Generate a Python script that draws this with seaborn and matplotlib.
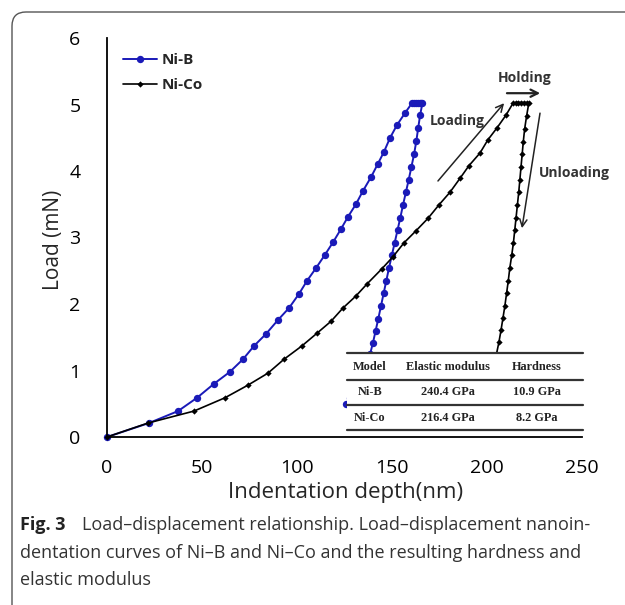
import matplotlib
matplotlib.use("Agg")
import numpy as np
import pandas as pd
import seaborn as sns
import matplotlib.pyplot as plt
from matplotlib.patches import FancyBboxPatch, Rectangle
from matplotlib.lines import Line2D
from matplotlib.transforms import IdentityTransform

# ---------------- data ----------------
niB_depth = [0, 22.1, 37.4, 47.4, 56.3, 64.7, 71.6, 77.4, 83.7, 90.0, 95.8, 101.0,
             105.3, 110.0, 114.7, 119.0, 123.2, 126.8, 131.0, 134.7, 139.0, 142.6,
             145.8, 149.0, 152.6, 156.8, 160.5,
             161.5, 162.5, 163.5, 164.5, 165.5,
             166.0, 164.8, 163.8, 162.8, 161.6, 160.2, 158.8, 157.3, 155.8, 154.4,
             152.9, 151.4, 149.9, 148.4, 147.0, 145.6, 144.2, 142.8, 141.4, 140.0,
             138.5, 136.5, 134.0, 131.0, 128.0, 125.8]
niB_load = [0, 0.21, 0.39, 0.59, 0.80, 0.98, 1.17, 1.37, 1.55, 1.76, 1.94, 2.15,
            2.35, 2.54, 2.74, 2.93, 3.13, 3.31, 3.50, 3.70, 3.91, 4.11,
            4.29, 4.50, 4.69, 4.87, 5.02,
            5.03, 5.03, 5.03, 5.03, 5.03,
            5.02, 4.84, 4.65, 4.45, 4.25, 4.06, 3.87, 3.68, 3.49, 3.30,
            3.11, 2.92, 2.73, 2.54, 2.35, 2.16, 1.97, 1.78, 1.60, 1.42,
            1.25, 1.08, 0.90, 0.72, 0.58, 0.50]

niCo_depth = [0, 21.6, 45.8, 62.1, 74.2, 84.7, 93.2, 102.6, 110.5, 117.9, 124.2,
              131.0, 136.8, 144.7, 150.5, 156.3, 162.6, 169.0, 174.7, 180.5, 185.8,
              190.5, 196.3, 200.5, 205.3, 210.0, 213.7,
              215.0, 216.5, 218.0, 219.5, 221.0,
              222.0, 220.8, 219.8, 219.1, 218.5, 217.9, 217.3, 216.7, 216.0, 215.3,
              214.6, 213.9, 213.0, 212.0, 211.2, 210.3, 209.4, 208.4, 207.4, 206.3,
              205.0, 203.5]
niCo_load = [0, 0.21, 0.39, 0.59, 0.78, 0.96, 1.17, 1.37, 1.56, 1.74, 1.94,
             2.12, 2.30, 2.53, 2.71, 2.92, 3.10, 3.29, 3.49, 3.68, 3.89,
             4.08, 4.27, 4.47, 4.65, 4.84, 5.02,
             5.03, 5.03, 5.03, 5.03, 5.03,
             5.02, 4.82, 4.63, 4.44, 4.25, 4.06, 3.87, 3.68, 3.49, 3.30,
             3.11, 2.92, 2.73, 2.54, 2.35, 2.16, 1.97, 1.79, 1.61, 1.43,
             1.25, 1.08]

x_ticks = [0, 50, 100, 150, 200, 250]
y_ticks = [0, 1, 2, 3, 4, 5, 6]

table_header = ["Model", "Elastic modulus", "Hardness"]
table_rows = [["Ni-B", "240.4 GPa", "10.9 GPa"],
              ["Ni-Co", "216.4 GPa", "8.2 GPa"]]

caption_bold = "Fig. 3"
caption_lines = ["Load\u2013displacement relationship. Load\u2013displacement nanoin-",
                 "dentation curves of Ni\u2013B and Ni\u2013Co and the resulting hardness and",
                 "elastic modulus"]

# ---------------- style ----------------
sns.set_style("white")
plt.rcParams["font.family"] = ["Open Sans", "DejaVu Sans"]

W, H = 625, 605
fig = plt.figure(figsize=(W / 100, H / 100), dpi=100)
fig.patch.set_facecolor("white")


def fx(px):
    return px / W


def fy(py):
    return 1 - py / H


ax = fig.add_axes([fx(107), fy(437), 475 / W, 399 / H])

blue = "#1a1ab8"
df_b = pd.DataFrame({"depth": niB_depth, "load": niB_load})
df_c = pd.DataFrame({"depth": niCo_depth, "load": niCo_load})

sns.lineplot(data=df_b, x="depth", y="load", sort=False, estimator=None, ax=ax,
             color=blue, marker="o", markersize=5.3, markeredgewidth=0,
             linewidth=1.4, label="Ni-B")
sns.lineplot(data=df_c, x="depth", y="load", sort=False, estimator=None, ax=ax,
             color="black", marker="D", markersize=3.2, markeredgewidth=0,
             linewidth=1.2, label="Ni-Co")
for ln in ax.lines:
    ln.set_clip_on(False)

ax.set_xlim(0, 250)
ax.set_ylim(0, 6)
ax.set_xticks(x_ticks)
ax.set_yticks(y_ticks)
ax.set_xticklabels([str(v) for v in x_ticks])
ax.set_yticklabels([str(v) for v in y_ticks])
ax.tick_params(axis="both", direction="out", length=7, width=1.3, labelsize=14,
               colors="black")
ax.tick_params(axis="x", pad=9)
ax.tick_params(axis="y", pad=12)
sns.despine(ax=ax)
for s in ["left", "bottom"]:
    ax.spines[s].set_linewidth(1.3)
    ax.spines[s].set_color("black")

ax.set_xlabel("Indentation depth(nm)", fontsize=16)
ax.set_ylabel("Load (mN)", fontsize=15)
ax.xaxis.set_label_coords((346 - 107) / 475, (437 - 482) / 399)
ax.yaxis.label.set_va("center")
ax.yaxis.set_label_coords((53 - 107) / 475, (437 - 240) / 399)

leg = ax.legend(loc="upper left", bbox_to_anchor=(0.034, 0.962), frameon=False,
                prop={"size": 11, "weight": "bold"}, handlelength=2.2,
                handletextpad=0.3, borderpad=0, borderaxespad=0, labelspacing=0.7)

# annotations
arrow_kw = dict(arrowstyle="->", lw=1.1, color="#222222", shrinkA=0, shrinkB=0,
                mutation_scale=13)
ax.annotate("", xy=(209.0, 5.02), xytext=(174.2, 3.85), arrowprops=arrow_kw)
ax.annotate("", xy=(228.0, 5.17), xytext=(210.5, 5.17),
            arrowprops=dict(arrow_kw, lw=1.6))
ax.annotate("", xy=(218.4, 3.14), xytext=(227.9, 4.87), arrowprops=arrow_kw)
ax.text(184.2, 4.75, "Loading", ha="center", va="center", fontsize=10,
        weight="bold", color="#333333")
ax.text(220.0, 5.40, "Holding", ha="center", va="center", fontsize=10,
        weight="bold", color="#333333")
ax.text(245.8, 3.97, "Unloading", ha="center", va="center", fontsize=10,
        weight="bold", color="#333333")

# inset table
tx0, tx1 = 347, 583
fig.add_artist(Rectangle((fx(tx0), fy(431)), (tx1 - tx0) / W, 79 / H,
                         transform=fig.transFigure, facecolor="white",
                         edgecolor="none", zorder=5))
for yy in [353, 380, 405, 430]:
    fig.add_artist(Line2D([fx(tx0), fx(tx1)], [fy(yy), fy(yy)],
                          transform=fig.transFigure, color="#333333", lw=1.6,
                          zorder=6))
col_x = [370, 448, 537]
row_y = [367, 392, 418]
for cx, t in zip(col_x, table_header):
    fig.text(fx(cx), fy(row_y[0]), t, ha="center", va="center", fontsize=8.8,
             weight="bold", family="Liberation Serif", color="#222222", zorder=7)
for ry, row in zip(row_y[1:], table_rows):
    for cx, t in zip(col_x, row):
        fig.text(fx(cx), fy(ry), t, ha="center", va="center", fontsize=8.8,
                 weight="bold", family="Liberation Serif", color="#222222",
                 zorder=7)

# caption
cap_y = [525, 553, 580]
cap_fs = 13
fig.text(fx(20), fy(cap_y[0]), caption_bold, ha="left", va="center",
         fontsize=cap_fs, weight="bold", color="#222222")
fig.text(fx(82), fy(cap_y[0]), caption_lines[0], ha="left", va="center",
         fontsize=cap_fs, color="#333333")
fig.text(fx(20), fy(cap_y[1]), caption_lines[1], ha="left", va="center",
         fontsize=cap_fs, color="#333333")
fig.text(fx(20), fy(cap_y[2]), caption_lines[2], ha="left", va="center",
         fontsize=cap_fs, color="#333333")

# rounded outer frame
fig.add_artist(FancyBboxPatch((12, -100), 800, H - 12 + 100,
                              boxstyle="round,pad=0,rounding_size=14",
                              transform=IdentityTransform(), facecolor="none",
                              edgecolor="#555555", lw=1.0, zorder=8))

fig.savefig("out.png", dpi=100)
